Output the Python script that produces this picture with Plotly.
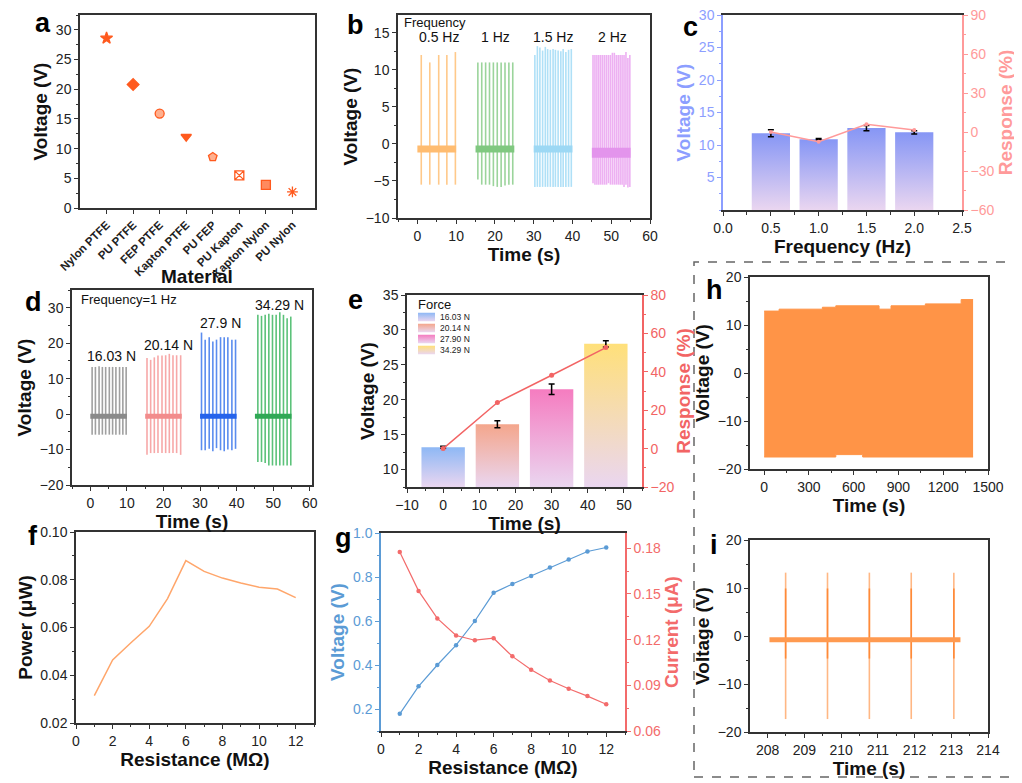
import plotly.graph_objects as go

# ================= DATA =================
# (a) material pairs
a_materials = ["Nylon PTFE", "PU PTFE", "FEP PTFE", "Kapton PTFE", "PU FEP", "PU Kapton", "Kapton Nylon", "PU Nylon"]
a_voltage = [28.6, 20.8, 15.9, 12.0, 8.6, 5.5, 3.9, 2.7]

# (b) frequency series
b_labels = ["0.5 Hz", "1 Hz", "1.5 Hz", "2 Hz"]
b_label_x = [5.5, 20.1, 35.0, 50.4]
b_start = [0, 15, 30, 45]
b_end = [10, 25, 40, 55]
b_baseline = [-0.7, -0.7, -0.7, -1.2]
b_times = [
    [1.0, 3.2, 5.5, 7.6, 9.8],
    [15.6, 16.6, 17.6, 18.6, 19.6, 20.6, 21.6, 22.6, 23.6, 24.6],
    [30.3, 30.95, 31.6, 32.3, 33.0, 33.6, 34.3, 35.0, 35.6, 36.3, 37.0, 37.6, 38.3, 39.0, 39.7],
    [45.3, 45.8, 46.3, 46.8, 47.3, 47.8, 48.3, 48.8, 49.3, 49.8, 50.3, 50.8, 51.3, 51.8, 52.3, 52.8, 53.3, 53.8, 54.3, 54.8],
]
b_peaks = [
    [12.0, 11.0, 12.0, 12.0, 12.4],
    [11.0, 11.0, 11.0, 11.0, 11.0, 11.0, 11.0, 11.0, 11.0, 11.0],
    [12.0, 13.2, 13.0, 12.6, 13.1, 12.8, 12.7, 12.8, 12.7, 12.6, 12.5, 12.8, 12.4, 12.7, 12.8],
    [12.0, 12.0, 12.0, 12.0, 12.0, 12.0, 12.0, 12.0, 12.0, 12.0, 12.3, 12.3, 12.0, 12.0, 12.0, 12.0, 12.0, 12.4, 11.6, 12.0],
]
b_troughs = [
    [-5.5, -5.5, -5.5, -5.5, -5.5],
    [-4.8, -5.5, -5.5, -5.5, -5.7, -5.8, -5.8, -5.6, -5.5, -5.5],
    [-5.8, -5.8, -5.8, -5.8, -5.8, -5.8, -5.8, -5.8, -5.8, -5.8, -5.8, -5.8, -5.8, -5.8, -5.8],
    [-5.3, -5.5, -5.5, -5.5, -5.5, -5.5, -5.5, -5.5, -5.3, -5.5, -5.5, -5.5, -5.5, -5.5, -5.5, -5.5, -5.8, -5.5, -5.9, -5.8],
]

# (c) frequency bars
c_freq = [0.5, 1.0, 1.5, 2.0]
c_voltage = [11.8, 10.9, 12.6, 11.95]
c_err = [0.55, 0.1, 0.4, 0.25]
c_response = [0.0, -7.5, 6.0, 1.5]

# (d) force series
d_labels = ["16.03 N", "20.14 N", "27.9 N", "34.29 N"]
d_label_x = [5.75, 21.5, 35.6, 51.6]
d_label_y = [16.3, 19.5, 25.7, 30.8]
d_start = [0, 15, 30, 45]
d_end = [10, 25, 40, 55]
d_baseline = [-0.6, -0.6, -0.6, -0.6]
d_times = [
    [0.5, 1.4, 2.4, 3.3, 4.2, 5.2, 6.1, 7.0, 8.0, 8.9, 9.8],
    [15.5, 16.5, 17.5, 18.5, 19.6, 20.6, 21.6, 22.6, 23.6, 24.7],
    [30.4, 31.4, 32.5, 33.5, 34.5, 35.6, 36.6, 37.6, 38.7, 39.7],
    [45.8, 46.8, 47.8, 48.8, 49.8, 50.8, 51.8, 52.8, 53.8, 54.8],
]
d_peaks = [
    [13.3, 13.3, 13.5, 13.3, 13.3, 13.3, 13.3, 13.3, 13.3, 13.3, 13.3],
    [15.8, 15.3, 16.0, 16.5, 16.5, 16.6, 17.0, 16.6, 16.6, 16.6],
    [23.0, 21.0, 21.7, 20.5, 21.0, 21.7, 21.7, 21.7, 21.0, 21.0],
    [28.0, 27.7, 28.0, 28.3, 28.0, 28.0, 28.7, 28.0, 27.0, 27.5],
]
d_troughs = [
    [-5.8, -5.8, -5.8, -5.8, -5.8, -5.8, -5.8, -5.8, -5.8, -5.8, -5.8],
    [-11.5, -11.0, -11.0, -11.0, -11.0, -11.0, -11.0, -11.0, -11.0, -11.5],
    [-10.2, -10.2, -9.8, -10.5, -9.6, -10.2, -10.5, -10.0, -10.2, -9.8],
    [-13.5, -13.5, -13.8, -14.5, -14.5, -14.5, -14.5, -14.5, -14.5, -14.5],
]

# (e) force bars
e_time = [0, 15, 30, 45]
e_voltage = [13.2, 16.5, 21.5, 28.0]
e_err = [0.15, 0.5, 0.75, 0.45]
e_response = [0.0, 24.0, 38.2, 52.6]
e_force = ["16.03 N", "20.14 N", "27.90 N", "34.29 N"]

# (f) power vs resistance
f_res = [1, 2, 3, 4, 5, 6, 7, 8, 9, 10, 11, 12]
f_power = [0.0315, 0.0464, 0.0536, 0.0605, 0.0721, 0.0880, 0.0835, 0.0807, 0.0786, 0.0769, 0.0761, 0.0725]

# (g) voltage & current vs resistance
g_res = [1, 2, 3, 4, 5, 6, 7, 8, 9, 10, 11, 12]
g_voltage = [0.178, 0.303, 0.400, 0.490, 0.600, 0.728, 0.768, 0.805, 0.843, 0.879, 0.916, 0.934]
g_current = [0.1776, 0.152, 0.1339, 0.1227, 0.1196, 0.1209, 0.109, 0.1002, 0.0932, 0.0877, 0.0829, 0.0776]

# (h) long-term stability envelope
h_top_t = [0, 100, 390, 480, 770, 850, 1080, 1320, 1400]
h_top_v = [12.9, 13.3, 13.7, 14.0, 13.3, 14.0, 14.4, 15.3, 15.3]
h_bot_t = [0, 480, 660, 1400]
h_bot_v = [-17.5, -17.0, -17.5, -17.5]

# (i) zoomed waveform
i_spike_t = [208.49, 209.63, 210.77, 211.91, 213.07]
i_peak = [13.2, 13.2, 13.2, 13.2, 13.2]
i_trough = [-17.3, -17.3, -17.3, -17.3, -17.3]
i_inner_peak = [9.9, 9.9, 9.9, 9.9, 9.9]
i_inner_trough = [-4.7, -4.7, -4.7, -4.7, -4.7]
i_base_t = [208.05, 213.25]
i_base_v = [-0.8, -0.8]

# ================= STYLE =================
FONT = "Liberation Sans, Arial, sans-serif"
AX = "#333333"
ORANGE_A = "#FF5A1E"
a_symbols = ["star", "diamond", "circle", "triangle-down", "pentagon", "square-x-open", "square", "asterisk-open"]
a_fills = [ORANGE_A, ORANGE_A, "#FFB08F", ORANGE_A, "#FFB08F", ORANGE_A, "#FF8A5E", ORANGE_A]
b_line_col = ["#FFC98A", "#9BD49B", "#AFE0F7", "#EDB0F2"]
b_band_col = ["#FFBC70", "#80C880", "#9CD8F4", "#E394EC"]
b_band_w = [7, 7, 7, 10]
d_line_col = ["#A0A0A0", "#F7A8A8", "#5B8DEF", "#5CC27A"]
d_band_col = ["#8A8A8A", "#F28C8C", "#2563EB", "#2FA855"]
e_top_col = ["#8EB8F5", "#F4A68C", "#F57CC0", "#FFE07A"]
BAR_BOTTOM = "#EAD6F0"
C_BLUE = "#8C9EFF"
C_PINK = "#FF9A9A"
E_RED = "#F26464"
G_BLUE = "#5B9BD5"
G_RED = "#F36B6B"
H_ORANGE = "#FF9447"

# page offset: the browser body keeps an 8 px margin around the figure
OFF = 8
W, H = 1022 - OFF, 783 - OFF

fig = go.Figure()


def spikes(times, lows, highs):
    xs, ys = [], []
    for t, lo, hi in zip(times, lows, highs):
        xs += [t, t, None]
        ys += [lo, hi, None]
    return xs, ys


def gbar(xc, top, width, bottom, xa, ya, ctop, cbot):
    x0, x1 = xc - width / 2, xc + width / 2
    return go.Scatter(x=[x0, x1, x1, x0, x0], y=[bottom, bottom, top, top, bottom],
                      fill="toself", mode="none", xaxis=xa, yaxis=ya,
                      fillgradient=dict(type="vertical", colorscale=[[0, cbot], [1, ctop]]),
                      showlegend=False, hoverinfo="skip")


# ---- (a)
for i, (m, v) in enumerate(zip(a_materials, a_voltage)):
    fig.add_trace(go.Scatter(x=[i + 1], y=[v], mode="markers", xaxis="x", yaxis="y",
                             marker=dict(symbol=a_symbols[i], size=9, color=a_fills[i],
                                         line=dict(color=ORANGE_A, width=1.3)),
                             showlegend=False))

# ---- (b)
for k in range(4):
    xs, ys = spikes(b_times[k], b_troughs[k], b_peaks[k])
    fig.add_trace(go.Scatter(x=xs, y=ys, mode="lines", xaxis="x2", yaxis="y2",
                             line=dict(color=b_line_col[k], width=1.6), showlegend=False))
    fig.add_trace(go.Scatter(x=[b_start[k], b_end[k]], y=[b_baseline[k]] * 2, mode="lines",
                             xaxis="x2", yaxis="y2", line=dict(color=b_band_col[k], width=b_band_w[k]),
                             showlegend=False))

# ---- (c)
for f, v in zip(c_freq, c_voltage):
    fig.add_trace(gbar(f, v, 0.4, 0, "x3", "y3", "#8696F5", BAR_BOTTOM))
fig.add_trace(go.Scatter(x=c_freq, y=c_voltage, mode="markers", xaxis="x3", yaxis="y3",
                         marker=dict(size=1, color="black"),
                         error_y=dict(type="data", array=c_err, color="black", thickness=1.5, width=3),
                         showlegend=False))
fig.add_trace(go.Scatter(x=c_freq, y=c_response, mode="lines+markers", xaxis="x3", yaxis="y4",
                         line=dict(color=C_PINK, width=1.5), marker=dict(size=4, color=C_PINK),
                         showlegend=False))

# ---- (d)
for k in range(4):
    xs, ys = spikes(d_times[k], d_troughs[k], d_peaks[k])
    fig.add_trace(go.Scatter(x=xs, y=ys, mode="lines", xaxis="x4", yaxis="y5",
                             line=dict(color=d_line_col[k], width=1.6), showlegend=False))
    fig.add_trace(go.Scatter(x=[d_start[k], d_end[k]], y=[d_baseline[k]] * 2, mode="lines",
                             xaxis="x4", yaxis="y5", line=dict(color=d_band_col[k], width=5),
                             showlegend=False))

# ---- (e)
E_YMIN = 7.5
for k in range(4):
    fig.add_trace(gbar(e_time[k], e_voltage[k], 12, E_YMIN, "x5", "y6", e_top_col[k], BAR_BOTTOM))
fig.add_trace(go.Scatter(x=e_time, y=e_voltage, mode="markers", xaxis="x5", yaxis="y6",
                         marker=dict(size=1, color="black"),
                         error_y=dict(type="data", array=e_err, color="black", thickness=1.5, width=3),
                         showlegend=False))
fig.add_trace(go.Scatter(x=e_time, y=e_response, mode="lines+markers", xaxis="x5", yaxis="y7",
                         line=dict(color=E_RED, width=1.5), marker=dict(size=5, color=E_RED),
                         showlegend=False))
# (e) legend swatches (one per force entry, stacked by index on a hidden 0..1 / 0..n axis)
n_leg = len(e_force)
for k in range(n_leg):
    row = n_leg - 1 - k
    fig.add_trace(go.Scatter(x=[0, 1, 1, 0, 0], y=[row + 0.12, row + 0.12, row + 0.88, row + 0.88, row + 0.12],
                             fill="toself", mode="none", xaxis="x10", yaxis="y13",
                             fillgradient=dict(type="vertical", colorscale=[[0, BAR_BOTTOM], [1, e_top_col[k]]]),
                             showlegend=False, hoverinfo="skip"))

# ---- (f)
fig.add_trace(go.Scatter(x=f_res, y=f_power, mode="lines", xaxis="x6", yaxis="y8",
                         line=dict(color="#FFA66B", width=1.5), showlegend=False))

# ---- (g)
fig.add_trace(go.Scatter(x=g_res, y=g_voltage, mode="lines+markers", xaxis="x7", yaxis="y9",
                         line=dict(color=G_BLUE, width=1.2), marker=dict(size=4.5, color=G_BLUE),
                         showlegend=False))
fig.add_trace(go.Scatter(x=g_res, y=g_current, mode="lines+markers", xaxis="x7", yaxis="y10",
                         line=dict(color=G_RED, width=1.2), marker=dict(size=4.5, color=G_RED),
                         showlegend=False))

# ---- (h)
fig.add_trace(go.Scatter(x=h_bot_t, y=h_bot_v, mode="lines", line=dict(color=H_ORANGE, width=1, shape="hv"),
                         xaxis="x8", yaxis="y11", showlegend=False))
fig.add_trace(go.Scatter(x=h_top_t, y=h_top_v, mode="lines", line=dict(color=H_ORANGE, width=1, shape="hv"),
                         fill="tonexty", fillcolor=H_ORANGE, xaxis="x8", yaxis="y11", showlegend=False))

# ---- (i)
xs, ys = spikes(i_spike_t, i_trough, i_peak)
fig.add_trace(go.Scatter(x=xs, y=ys, mode="lines", xaxis="x9", yaxis="y12",
                         line=dict(color="#FFB784", width=1.6), showlegend=False))
xs, ys = spikes(i_spike_t, i_inner_trough, i_inner_peak)
fig.add_trace(go.Scatter(x=xs, y=ys, mode="lines", xaxis="x9", yaxis="y12",
                         line=dict(color="#FF8A38", width=1.6), showlegend=False))
fig.add_trace(go.Scatter(x=i_base_t, y=i_base_v, mode="lines", xaxis="x9", yaxis="y12",
                         line=dict(color="#FF9A50", width=5), showlegend=False))


# ================= AXES =================
def px_x(p):
    return (p - OFF) / W


def px_y(p):
    return 1 - (p - OFF) / H


def ax(dom, rng, title, anchor, dtick=None, tick0=0, tsize=19, tcolor="#111", lcolor=AX,
       tfcolor="#222", minor=True, mirror=False, standoff=3, **kw):
    d = dict(domain=dom, range=rng, anchor=anchor, showline=True, linecolor=lcolor, linewidth=1.5,
             mirror=mirror, ticks="outside", ticklen=4, tickwidth=1.2, tickcolor=lcolor,
             showgrid=False, zeroline=False, automargin=False, ticklabeloverflow="allow",
             tickfont=dict(size=14, color=tfcolor),
             title=dict(text="<b>" + title + "</b>" if title else "", font=dict(size=tsize, color=tcolor),
                        standoff=standoff))
    if dtick is not None:
        d.update(dtick=dtick, tick0=tick0)
        if minor:
            d["minor"] = dict(ticks="outside", ticklen=2.5, tickwidth=1, tickcolor=lcolor,
                              dtick=dtick / 2, tick0=tick0, showgrid=False)
    d.update(kw)
    return d


lay = {}
# (a)
lay["xaxis"] = ax([px_x(80), px_x(315)], [0, 8.85], "", "y", mirror=True,
                  tickvals=list(range(1, 9)), ticktext=["<b>" + m + "</b>" for m in a_materials],
                  tickangle=-45, tickfont=dict(size=11.5, color="#222"),
                  minor=dict(ticks="outside", ticklen=2.5, tickwidth=1, tickcolor=AX, dtick=0.5, tick0=0.5))
lay["yaxis"] = ax([px_y(208), px_y(15)], [0, 32.5], "Voltage (V)", "x", dtick=5, mirror=True)
# (b)
lay["xaxis2"] = ax([px_x(398), px_x(650)], [-5, 60], "Time (s)", "y2", dtick=10, mirror=True)
lay["yaxis2"] = ax([px_y(218), px_y(15)], [-10, 17.4], "Voltage (V)", "x2", dtick=5, mirror=True)
# (c)
lay["xaxis3"] = ax([px_x(723), px_x(962)], [-0.001, 2.5], "Frequency (Hz)", "y3", dtick=0.5, mirror=True,
                   tickformat=".1f", linewidth=2)
lay["yaxis3"] = ax([px_y(210), px_y(15)], [0, 30], "Voltage (V)", "x3", dtick=5, tcolor=C_BLUE,
                   lcolor=C_BLUE, tfcolor=C_BLUE, tickvals=[5, 10, 15, 20, 25, 30])
lay["yaxis4"] = ax([px_y(210), px_y(15)], [-60, 90], "Response (%)", "x3", dtick=30, tcolor=C_PINK,
                   lcolor=C_PINK, tfcolor=C_PINK, overlaying="y3", side="right")
# (d)
lay["xaxis4"] = ax([px_x(72), px_x(312)], [-5, 60.6], "Time (s)", "y5", dtick=10, mirror=True)
lay["yaxis5"] = ax([px_y(485), px_y(290)], [-20, 35], "Voltage (V)", "x4", dtick=10, mirror=True)
# (e)
lay["xaxis5"] = ax([px_x(407), px_x(642)], [-10, 55], "Time (s)", "y6", dtick=10, mirror=True)
lay["yaxis6"] = ax([px_y(487), px_y(295)], [E_YMIN, 35], "Voltage (V)", "x5", dtick=5)
lay["yaxis7"] = ax([px_y(487), px_y(295)], [-20, 80], "Response (%)", "x5", dtick=20, tcolor=E_RED,
                   lcolor=E_RED, tfcolor=E_RED, overlaying="y6", side="right")
# (f)
lay["xaxis6"] = ax([px_x(76), px_x(314)], [0, 13], "Resistance (MΩ)", "y8", dtick=2, mirror=True)
lay["yaxis8"] = ax([px_y(723), px_y(532)], [0.02, 0.10], "Power (μW)", "x6", dtick=0.02, tick0=0.02,
                   mirror=True, tickformat=".2f")
# (g)
lay["xaxis7"] = ax([px_x(381), px_x(625)], [0, 13], "Resistance (MΩ)", "y9", dtick=2, mirror=True)
lay["yaxis9"] = ax([px_y(731), px_y(533)], [0.1, 1.0], "Voltage (V)", "x7", dtick=0.2, tick0=0,
                   tcolor=G_BLUE, lcolor=G_BLUE, tfcolor=G_BLUE, tickformat=".1f")
lay["yaxis10"] = ax([px_y(731), px_y(533)], [0.06, 0.19], "Current (μA)", "x7", dtick=0.03, tick0=0,
                    tcolor=G_RED, lcolor=G_RED, tfcolor=G_RED, tickformat=".2f",
                    overlaying="y9", side="right")
# (h)
lay["xaxis8"] = ax([px_x(750), px_x(988)], [-95, 1500], "Time (s)", "y11", dtick=300, mirror=True)
lay["yaxis11"] = ax([px_y(469), px_y(277)], [-20, 20], "Voltage (V)", "x8", dtick=10, mirror=True)
# (i)
lay["xaxis9"] = ax([px_x(750), px_x(988)], [207.52, 214], "Time (s)", "y12", dtick=1, tick0=208, mirror=True)
lay["yaxis12"] = ax([px_y(732), px_y(540)], [-20, 20], "Voltage (V)", "x9", dtick=10, mirror=True)
# hidden axes for the (e) legend swatches
LEG_TOP, LEG_ROW = 311.5, 11.0
lay["xaxis10"] = dict(domain=[px_x(418), px_x(435)], range=[0, 1], visible=False, anchor="y13", fixedrange=True)
lay["yaxis13"] = dict(domain=[px_y(LEG_TOP + LEG_ROW * n_leg), px_y(LEG_TOP)], range=[0, n_leg],
                      visible=False, anchor="x10", fixedrange=True)

annotations = []
# panel letters
for letter, x, y in [("a", 43, 23), ("b", 355, 25), ("c", 690, 27), ("d", 33, 302), ("e", 355, 300),
                     ("f", 33, 536), ("g", 343, 538), ("h", 714, 290), ("i", 714, 545)]:
    annotations.append(dict(text="<b>" + letter + "</b>", x=px_x(x), y=px_y(y), xref="paper", yref="paper",
                            showarrow=False, font=dict(size=27, color="black"), xanchor="center",
                            yanchor="middle"))
# (a) axis title below the rotated labels
annotations.append(dict(text="<b>Material</b>", x=px_x(197), y=px_y(276), xref="paper", yref="paper",
                        showarrow=False, font=dict(size=19, color="#111"), xanchor="center", yanchor="middle"))
# (b) texts
annotations.append(dict(text="Frequency", x=-3.9, y=16.4, xref="x2", yref="y2", showarrow=False,
                        xanchor="left", font=dict(size=13, color="#111")))
for lab, lx in zip(b_labels, b_label_x):
    annotations.append(dict(text=lab, x=lx, y=14.4, xref="x2", yref="y2", showarrow=False,
                            font=dict(size=14, color="#111")))
# (d) texts
annotations.append(dict(text="Frequency=1 Hz", x=-3.2, y=32.3, xref="x4", yref="y5", showarrow=False,
                        xanchor="left", font=dict(size=13, color="#111")))
for lab, lx, ly in zip(d_labels, d_label_x, d_label_y):
    annotations.append(dict(text=lab, x=lx, y=ly, xref="x4", yref="y5", showarrow=False,
                            font=dict(size=14, color="#111")))
# (e) legend texts
annotations.append(dict(text="Force", x=px_x(416), y=px_y(304), xref="paper", yref="paper", showarrow=False,
                        xanchor="left", yanchor="middle", font=dict(size=13, color="#111")))
for k in range(n_leg):
    annotations.append(dict(text=e_force[k], x=px_x(438), y=px_y(LEG_TOP + LEG_ROW * (k + 0.5)),
                            xref="paper", yref="paper", showarrow=False,
                            xanchor="left", yanchor="middle", font=dict(size=8.5, color="#222")))

shapes = [dict(type="rect", xref="paper", yref="paper", x0=px_x(694), x1=px_x(1015), y0=px_y(777),
               y1=px_y(262), line=dict(color="#666666", width=1.5, dash="dash"))]

fig.update_layout(
    width=W, height=H, margin=dict(l=0, r=0, t=0, b=0, autoexpand=False),
    paper_bgcolor="white", plot_bgcolor="white",
    font=dict(family=FONT, color="#222"),
    annotations=annotations, shapes=shapes,
    showlegend=False,
    **lay,
)

fig.write_html("out.html")
